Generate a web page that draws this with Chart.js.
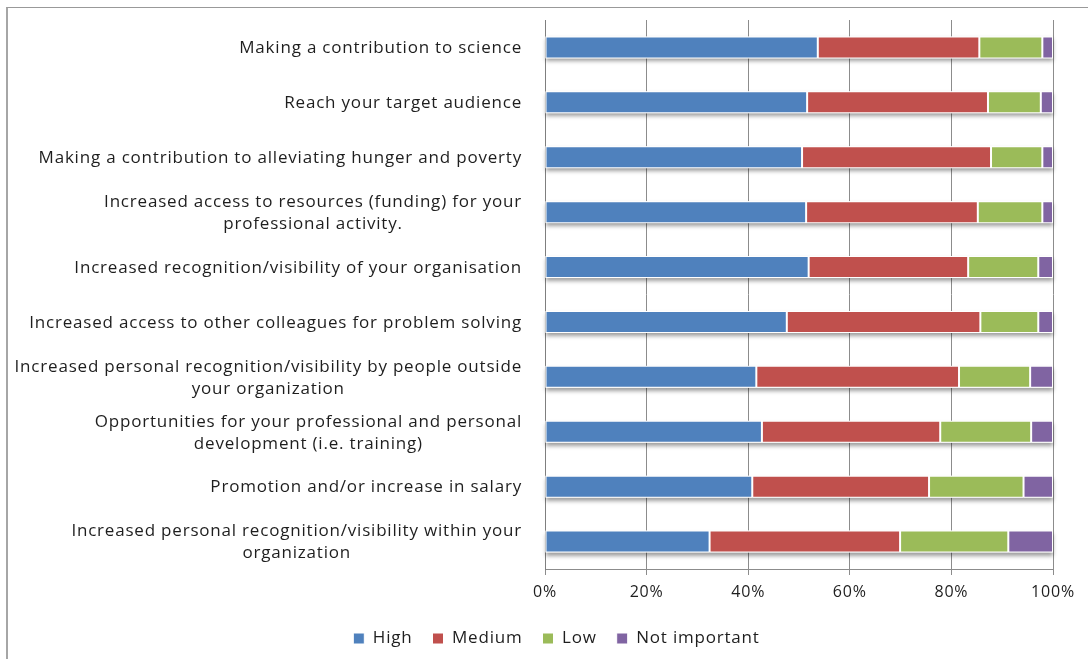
<!DOCTYPE html>
<html>
<head>
<meta charset="utf-8">
<script src="https://cdn.jsdelivr.net/npm/chart.js@4"></script>
<style>
  html, body { margin: 0; padding: 0; background: #fff; }
  #wrap { position: relative; width: 1088px; height: 659px; overflow: hidden; }
  #frame {
    position: absolute; left: 6px; top: 7px; width: 1200px; height: 800px;
    border-left: 2px solid #a6a6a6; border-top: 1px solid #999;
  }
  #chart { position: absolute; left: 0; top: 0; }
</style>
</head>
<body>
<div id="wrap">
  <div id="frame"></div>
  <canvas id="chart" width="1088" height="659"></canvas>
</div>
<script>
// Importance of each benefit, share of respondents (%), top row first.
const categories = [
  ["Making a contribution to science"],
  ["Reach your target audience"],
  ["Making a contribution to alleviating hunger and poverty"],
  ["Increased access to resources (funding) for your", "professional activity."],
  ["Increased recognition/visibility of your organisation"],
  ["Increased access to other colleagues for problem solving"],
  ["Increased personal recognition/visibility by people outside", "your organization"],
  ["Opportunities for your professional and personal", "development (i.e. training)"],
  ["Promotion and/or increase in salary"],
  ["Increased personal recognition/visibility within your", "organization"],
];

const high = [53.7, 51.6, 50.6, 51.4, 51.9, 47.6, 41.6, 42.7, 40.8, 32.4];
const medium = [31.8, 35.6, 37.2, 33.8, 31.4, 38.1, 39.9, 35.1, 34.8, 37.5];
const low = [12.4, 10.4, 10.1, 12.7, 13.8, 11.4, 14.0, 17.9, 18.6, 21.3];
const notImportant = [2.1, 2.4, 2.1, 2.1, 2.9, 2.9, 4.5, 4.3, 5.8, 8.8];

const xTicks = [0, 20, 40, 60, 80, 100];

const FONT = "'Open Sans', sans-serif";
const TEXT = "#1e1e1e";
const GRID = "#8c8c8c";

// a touch of tracking on all text, set before layout so measuring sees it too
const Tracking = {
  id: "tracking",
  beforeUpdate(chart) { chart.ctx.letterSpacing = "0.8px"; },
  beforeDraw(chart) { chart.ctx.letterSpacing = "0.8px"; },
};

// soft drop shadow under each full stacked bar
const BarShadow = {
  id: "barShadow",
  beforeDatasetsDraw(chart) {
    const { ctx } = chart;
    const first = chart.getDatasetMeta(0).data;
    const last = chart.getDatasetMeta(chart.data.datasets.length - 1).data;
    ctx.save();
    ctx.shadowColor = "rgba(0,0,0,0.38)";
    ctx.shadowBlur = 4;
    ctx.shadowOffsetY = 3;
    ctx.fillStyle = "#ffffff";
    first.forEach((bar, i) => {
      const left = bar.base;
      const right = last[i].x;
      ctx.fillRect(left, bar.y - bar.height / 2, right - left, bar.height);
    });
    ctx.restore();
  },
};

// category labels: block right-aligned to the axis, lines centred within the block
const CategoryLabels = {
  id: "categoryLabels",
  afterDraw(chart) {
    const { ctx, chartArea } = chart;
    const yScale = chart.scales.y;
    const lineHeight = 22;
    const right = chartArea.left - 23;
    ctx.save();
    ctx.font = `17px ${FONT}`;
    ctx.fillStyle = TEXT;
    ctx.textAlign = "center";
    ctx.textBaseline = "middle";
    categories.forEach((lines, i) => {
      const y = yScale.getPixelForTick(i) + 1;
      const blockWidth = Math.max(...lines.map((l) => ctx.measureText(l).width));
      const cx = right - blockWidth / 2;
      lines.forEach((line, j) => {
        ctx.fillText(line, cx, y + (j - (lines.length - 1) / 2) * lineHeight);
      });
    });
    ctx.restore();
  },
};

function series(label, data, color) {
  return {
    label,
    data,
    backgroundColor: color,
    borderColor: "#ffffff",
    borderWidth: 1,
    borderSkipped: false,
    barPercentage: 0.4,
    categoryPercentage: 1,
  };
}

new Chart(document.getElementById("chart"), {
  type: "bar",
  data: {
    labels: categories.map((l) => l.join(" ")),
    datasets: [
      series("High", high, "#4f81bd"),
      series("Medium", medium, "#c0504d"),
      series("Low", low, "#9bbb59"),
      series("Not important", notImportant, "#8064a2"),
    ],
  },
  plugins: [Tracking, BarShadow, CategoryLabels],
  options: {
    indexAxis: "y",
    responsive: false,
    animation: false,
    layout: { padding: { top: 20, right: 35, left: 60, bottom: 2 } },
    scales: {
      x: {
        stacked: true,
        min: 0,
        max: 100,
        afterBuildTicks: (s) => { s.ticks = xTicks.map((v) => ({ value: v })); },
        afterFit: (s) => { s.height = 41; },
        grid: { color: GRID, lineWidth: 1, tickLength: 6, drawTicks: true },
        border: { display: true, color: GRID, width: 1 },
        ticks: {
          padding: 8,
          color: TEXT,
          font: { family: FONT, size: 16 },
          callback: (v) => `${v}%`,
        },
      },
      y: {
        stacked: true,
        afterFit: (s) => { s.width = 485; },
        grid: { display: false },
        border: { display: true, color: "#7f7f7f", width: 1 },
        ticks: { display: false },
      },
    },
    plugins: {
      tooltip: { enabled: false },
      legend: {
        position: "bottom",
        labels: {
          color: TEXT,
          font: { family: FONT, size: 17 },
          boxWidth: 11,
          boxHeight: 11,
          padding: 20,
        },
      },
    },
  },
});
</script>
</body>
</html>
